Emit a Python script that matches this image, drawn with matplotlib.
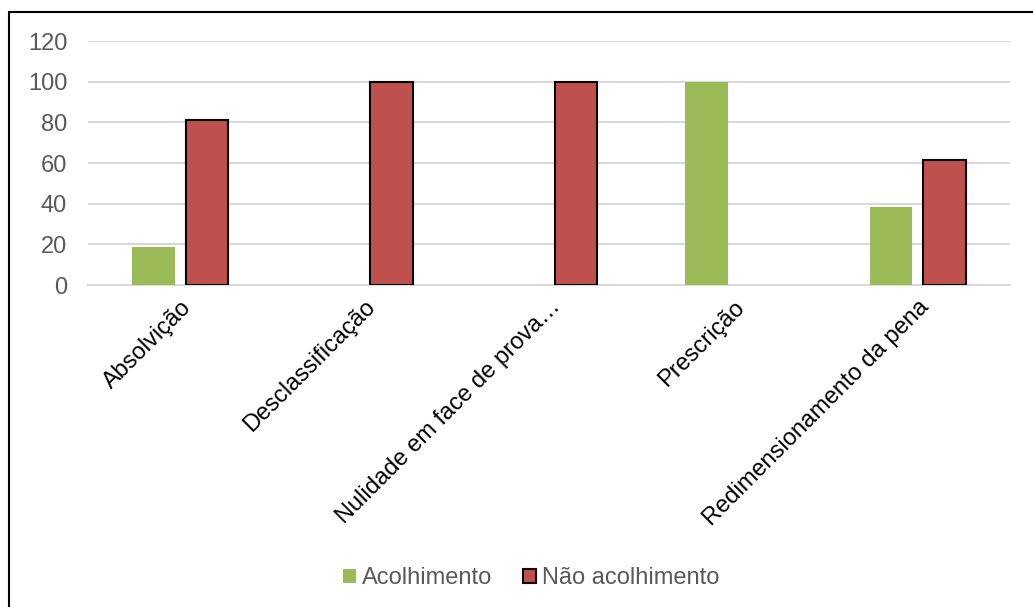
import matplotlib.pyplot as plt
import numpy as np
from matplotlib.patches import Rectangle

plt.rcParams['font.family'] = ['Liberation Sans', 'DejaVu Sans']

# Motivos do recurso e percentual de acolhimento
categorias = ['Absolvição', 'Desclassificação', 'Nulidade em face de prova…',
              'Prescrição', 'Redimensionamento da pena']
acolhimento = [18.75, 0, 0, 100, 38.5]
nao_acolhimento = [81.25, 100, 100, 0, 61.5]
yticks = [0, 20, 40, 60, 80, 100, 120]

verde = '#9BBB59'
vermelho = '#C0504D'
cinza = '#595959'

fig = plt.figure(figsize=(10.33, 6.07), dpi=100)
ax = fig.add_axes([88 / 1033, 322 / 607, 922 / 1033, 244 / 607])

x = np.arange(len(categorias))
w = 0.23
ax.bar(x - 0.145, acolhimento, w, color=verde, label='Acolhimento', zorder=3)
# barras com valor zero ficam sem contorno
lw = [1.5 if v > 0 else 0 for v in nao_acolhimento]
ax.bar(x + 0.145, nao_acolhimento, w, color=vermelho, edgecolor='black',
       linewidth=lw, label='Não acolhimento', zorder=3)

ax.set_xlim(-0.5, len(categorias) - 0.5)
ax.set_ylim(0, 120)
ax.set_yticks(yticks)
ax.yaxis.grid(True, color='#d9d9d9', linewidth=1.5, zorder=0)
ax.tick_params(axis='y', length=0, labelsize=17, labelcolor=cinza, pad=15)
ax.tick_params(axis='x', length=0, pad=8)
ax.set_xticks(x)
ax.set_xticklabels(categorias, rotation=45, ha='right', rotation_mode='anchor',
                   fontsize=17, color='black')
for s in ['top', 'right', 'left']:
    ax.spines[s].set_visible(False)
ax.spines['bottom'].set_color('#d9d9d9')
ax.spines['bottom'].set_linewidth(1.5)

leg = fig.legend(loc='center', bbox_to_anchor=(531 / 1033, 1 - 578 / 607), ncol=2,
                 frameon=False, fontsize=17, handlelength=0.55, handleheight=0.55,
                 handletextpad=0.25, columnspacing=1.3)
for t in leg.get_texts():
    t.set_color(cinza)
leg.legend_handles[1].set_linewidth(1.5)

# moldura do gráfico
fig.patches.append(Rectangle((9 / 1033, -0.1), 1.2, 1 - 12 / 607 + 0.1,
                             transform=fig.transFigure, fill=False,
                             edgecolor='black', linewidth=1.5))

fig.savefig('out.png', dpi=100)
